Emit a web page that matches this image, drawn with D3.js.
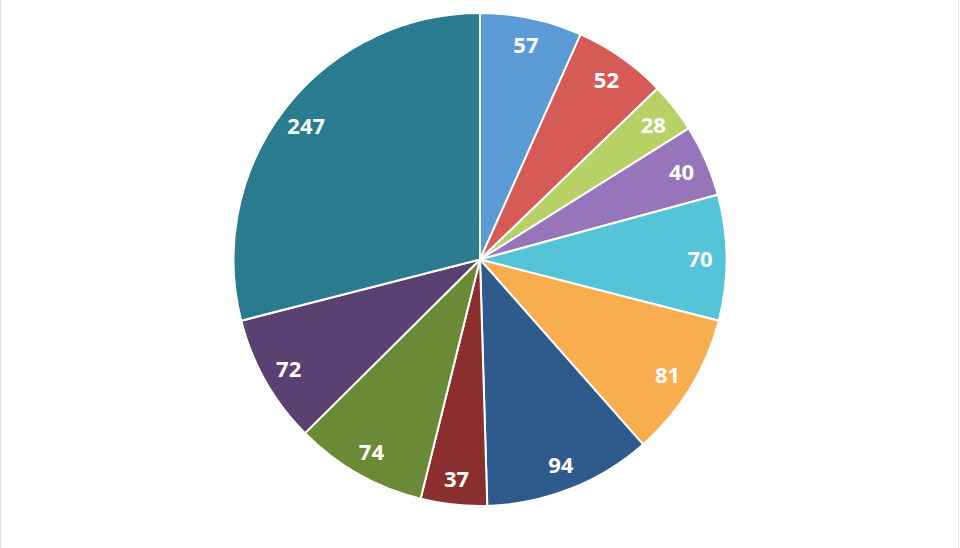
<!DOCTYPE html>
<html>
<head>
<meta charset="utf-8">
<script src="https://cdn.jsdelivr.net/npm/d3@7"></script>
<style>
html,body{margin:0;padding:0;background:#fff;}
svg{display:block;}
</style>
</head>
<body>
<svg id="chart" width="960" height="548"></svg>
<script>
const categories = ["A","B","C","D","E","F","G","H","I","J","K"];
const values = [57, 52, 28, 40, 70, 81, 94, 37, 74, 72, 247];
const colors = ["#5B9BD5","#D65B57","#B7D166","#9775BA","#55C4D8","#F8AE4F","#2E5A8C","#8B2E2E","#6B8A35","#5A4171","#2A7B8F"];

const width = 960, height = 548;
const cx = 480, cy = 259.5, r = 246.5;
const svg = d3.select("#chart");

// frame edges
svg.append("line").attr("x1",0.5).attr("x2",0.5).attr("y1",0).attr("y2",height).attr("stroke","#e3e3e3").attr("stroke-width",1);
svg.append("line").attr("x1",width-1.5).attr("x2",width-1.5).attr("y1",0).attr("y2",height).attr("stroke","#e3e3e3").attr("stroke-width",1);

const data = categories.map((c,i)=>({cat:c, value:values[i], color:colors[i]}));
const pie = d3.pie().value(d=>d.value).sort(null);
const arcs = pie(data);
const arc = d3.arc().innerRadius(0).outerRadius(r);
const labelArc = d3.arc().innerRadius(220).outerRadius(220);

const g = svg.append("g").attr("transform",`translate(${cx},${cy})`);
g.selectAll("path.slice").data(arcs).enter().append("path")
  .attr("class","slice")
  .attr("d",arc)
  .attr("fill",d=>d.data.color)
  .attr("stroke","#fff")
  .attr("stroke-width",2)
  .attr("stroke-linejoin","round");

g.selectAll("text.lbl").data(arcs).enter().append("text")
  .attr("class","lbl")
  .attr("transform",d=>{const [x,y]=labelArc.centroid(d); return `translate(${x},${y})`;})
  .attr("text-anchor","middle")
  .attr("dominant-baseline","central")
  .attr("font-family","'Open Sans', sans-serif")
  .attr("font-weight","bold")
  .attr("font-size","22px")
  .attr("fill","#fff")
  .text(d=>d.data.value);
</script>
</body>
</html>
